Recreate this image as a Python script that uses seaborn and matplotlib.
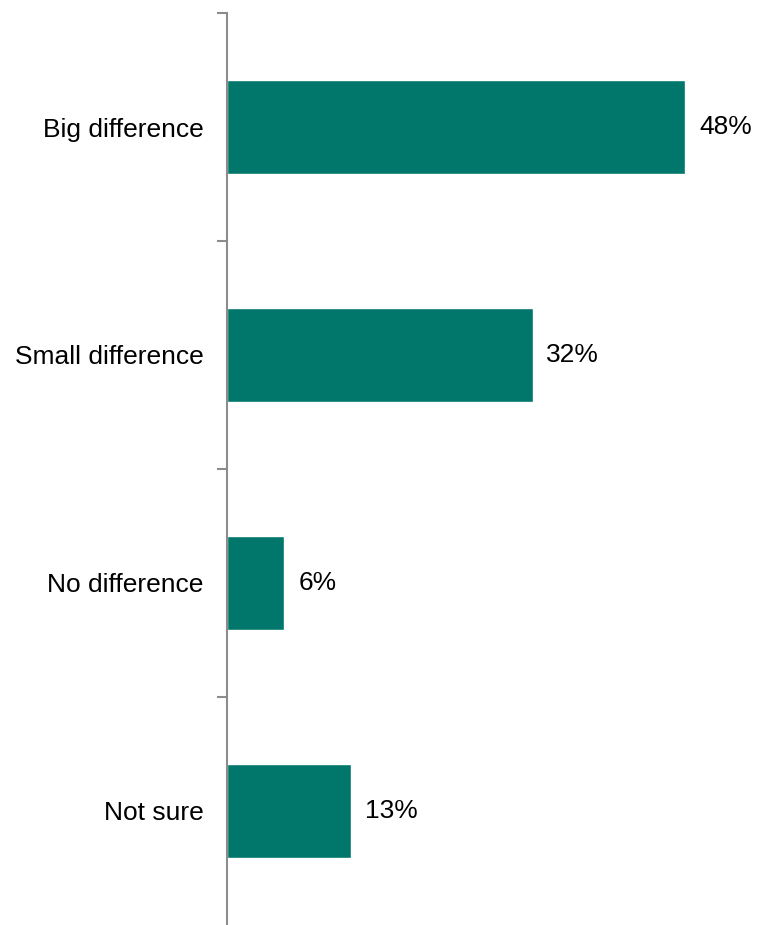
import numpy as np
import pandas as pd
import matplotlib
matplotlib.use("Agg")
import matplotlib.pyplot as plt
import seaborn as sns

categories = ["Big difference", "Small difference", "No difference", "Not sure"]
values = [48, 32, 6, 13]
value_labels = ["48%", "32%", "6%", "13%"]

sns.set_theme(style="white")
plt.rcParams["font.family"] = ["Liberation Sans", "DejaVu Sans"]

df = pd.DataFrame({"category": categories, "value": values})

fig = plt.figure(figsize=(7.57, 9.25), dpi=100)
ax = fig.add_axes([227 / 757, 0.0, 530 / 757, 912 / 925])

sns.barplot(data=df, x="value", y="category", orient="h", color="#00776A",
            width=0.41, saturation=1, ax=ax)

for i, (v, lab) in enumerate(zip(values, value_labels)):
    ax.text(v + 1.45, i, lab, va="center", ha="left", fontsize=19, color="#000000")

ax.set_xlim(0, 55.5)
ax.set_ylim(3.5, -0.5)
ax.set_xlabel("")
ax.set_ylabel("")
ax.set_xticks([])

for s in ["top", "right", "bottom"]:
    ax.spines[s].set_visible(False)
ax.spines["left"].set_color("#8C8C8C")
ax.spines["left"].set_linewidth(1.5)

ax.set_yticks(range(len(categories)))
ax.set_yticklabels(categories, fontsize=19, color="#000000")
ax.tick_params(axis="y", which="major", length=0, pad=17)
ax.set_yticks([-0.5, 0.5, 1.5, 2.5], minor=True)
ax.tick_params(axis="y", which="minor", length=7, width=1.5, color="#8C8C8C", left=True)

fig.savefig("out.png", dpi=100)
